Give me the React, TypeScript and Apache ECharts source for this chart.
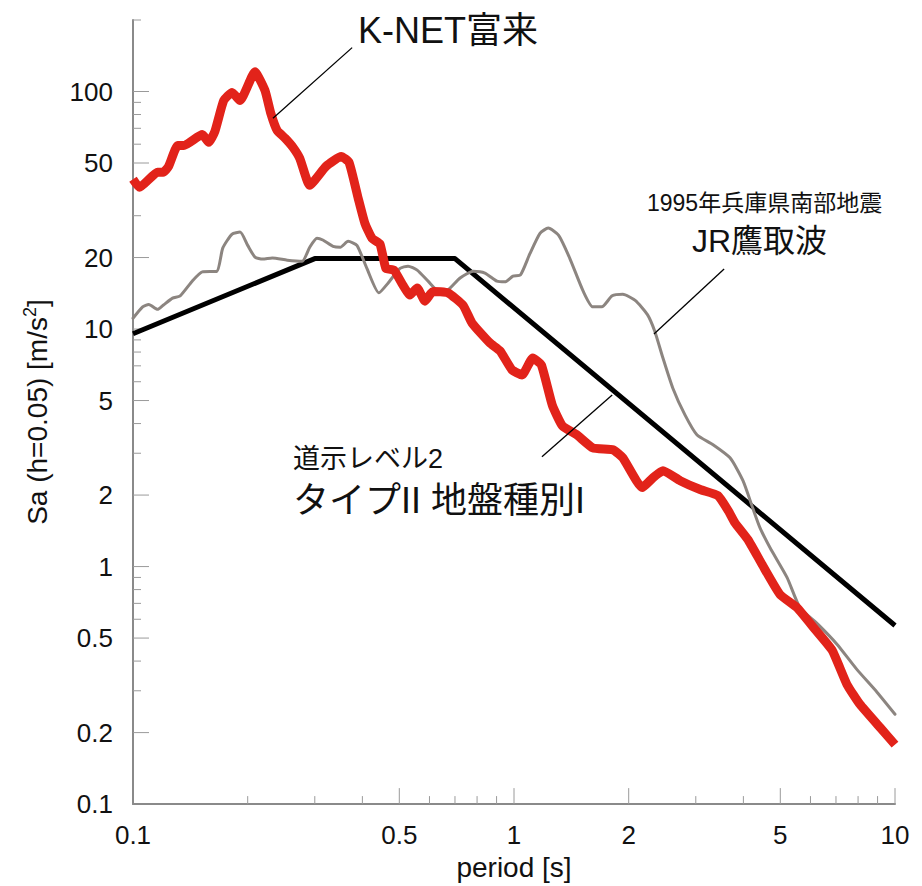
import React, { useEffect, useRef } from "react";
import * as echarts from "echarts";

// K-NET 富来 acceleration response spectrum (h = 0.05)
const knetPeriod = [
  0.1, 0.104, 0.116, 0.12, 0.124, 0.131, 0.136, 0.152, 0.158, 0.164,
  0.173, 0.182, 0.191, 0.209, 0.222, 0.23, 0.239, 0.251, 0.263, 0.274,
  0.291, 0.321, 0.352, 0.369, 0.39, 0.406, 0.424, 0.445, 0.461, 0.484,
  0.511, 0.533, 0.557, 0.584, 0.613, 0.671, 0.735, 0.776, 0.865, 0.919,
  0.988, 1.05, 1.12, 1.18, 1.26, 1.34, 1.46, 1.61, 1.82, 1.93,
  2.17, 2.32, 2.46, 2.73, 3.08, 3.43, 3.65, 3.8, 4.11, 4.48,
  4.99, 5.53, 6.17, 6.84, 7.48, 8.09, 9.14, 10,
];
const knetSa = [
  42.7, 39.5, 45.7, 45.7, 48.4, 59.3, 59.3, 65.9, 61.1, 67.9,
  91.6, 99.1, 91.6, 121, 101, 80.9, 68.5, 63.5, 58.2, 52.3,
  40.3, 48.4, 53.3, 50.3, 35.5, 27.9, 24.1, 22.8, 18.0, 17.7,
  15.3, 13.9, 14.9, 13.1, 14.4, 14.2, 12.6, 10.6, 8.73, 8.09,
  6.73, 6.41, 7.55, 7.06, 4.79, 3.91, 3.59, 3.16, 3.1, 2.87,
  2.15, 2.37, 2.53, 2.3, 2.11, 1.99, 1.72, 1.53, 1.3, 1.02,
  0.763, 0.672, 0.544, 0.444, 0.319, 0.263, 0.21, 0.178,
];

// 1995 兵庫県南部地震 JR鷹取波
const jrPeriod = [
  0.1, 0.106, 0.11, 0.116, 0.12, 0.127, 0.133, 0.143, 0.152, 0.166,
  0.172, 0.182, 0.191, 0.2, 0.209, 0.219, 0.232, 0.254, 0.278, 0.291,
  0.304, 0.315, 0.335, 0.35, 0.367, 0.387, 0.411, 0.442, 0.467, 0.502,
  0.527, 0.557, 0.595, 0.639, 0.671, 0.722, 0.781, 0.839, 0.902, 0.947,
  0.994, 1.04, 1.1, 1.17, 1.23, 1.31, 1.4, 1.52, 1.61, 1.7,
  1.81, 1.93, 2.08, 2.24, 2.34, 2.46, 2.61, 2.81, 3.02, 3.33,
  3.69, 3.99, 4.24, 4.42, 4.7, 5.21, 5.63, 6.28, 7.05, 7.94,
  8.97, 10,
];
const jrSa = [
  11.1, 12.4, 12.7, 12.1, 12.6, 13.5, 13.8, 15.9, 17.4, 17.5,
  21.9, 25.1, 25.6, 22.5, 20.1, 19.7, 19.9, 19.5, 19.3, 22.1,
  24.1, 23.7, 22.3, 22.1, 23.4, 22.5, 18.0, 14.2, 15.6, 18.0,
  18.4, 17.7, 15.9, 14.3, 14.6, 16.4, 17.5, 17.2, 15.9, 15.8,
  16.7, 16.9, 20.7, 25.3, 26.6, 24.8, 19.9, 14.4, 12.4, 12.4,
  13.8, 14.0, 13.2, 11.5, 9.81, 7.55, 5.65, 4.35, 3.59, 3.26,
  2.87, 2.3, 1.75, 1.46, 1.2, 0.899, 0.672, 0.571, 0.47, 0.369,
  0.296, 0.239,
];

// 道示レベル2 タイプII 地盤種別I design spectrum
const codePeriod = [0.1, 0.3, 0.7, 10];
const codeSa = [9.55, 19.8, 19.8, 0.565];

// Leader lines from each caption to its curve, as [period, Sa] pairs
const knetLeader = [[0.376, 153], [0.233, 77.2]];
const jrLeader = [[3.56, 17.9], [2.33, 9.53]];
const codeLeader = [[1.184, 2.9], [1.81, 5.28]];

// Axis ticks and labels
const xLabelValues = [0.1, 0.5, 1, 2, 5, 10];
const xMajorTicks = [0.5, 1, 2, 5, 10];
const xMinorTicks = [0.2, 0.3, 0.4, 0.6, 0.7, 0.8, 0.9, 3, 4, 6, 7, 8, 9];
const yLabelValues = [0.1, 0.2, 0.5, 1, 2, 5, 10, 20, 50, 100];
const yMajorTicks = [0.2, 0.5, 1, 2, 5, 10, 20, 50, 100];
const yMinorTicks = [
  0.3, 0.4, 0.6, 0.7, 0.8, 0.9, 3, 4, 6, 7, 8, 9, 30, 40, 60, 70, 80, 90, 200,
];

const X_MIN = 0.1;
const X_MAX = 10;
const Y_MIN = 0.1;
const Y_MAX = 200;
const MAJOR_LEN = 16;
const MINOR_LEN = 8;

const LATIN = '"Liberation Sans", Arial, Helvetica, sans-serif';
const MIXED = '"Liberation Sans", "Noto Sans CJK JP", sans-serif';

const zip = (xs: number[], ys: number[]) =>
  xs.slice(0, Math.min(xs.length, ys.length)).map((x, i) => [x, ys[i]]);

const leader = (pts: number[][]) => [{ coord: pts[0] }, { coord: pts[1] }];

// tick rows: [x, y, length]
const xTickRows = [
  ...xMajorTicks.map((v) => [v, Y_MIN, MAJOR_LEN]),
  ...xMinorTicks.map((v) => [v, Y_MIN, MINOR_LEN]),
];
const yTickRows = [
  ...yMajorTicks.map((v) => [X_MIN, v, MAJOR_LEN]),
  ...yMinorTicks.map((v) => [X_MIN, v, MINOR_LEN]),
];

const TICK_COLOR = "#9a9a9a";

export default function App() {
  const ref = useRef<HTMLDivElement>(null);

  useEffect(() => {
    if (!ref.current) return;
    const chart = echarts.init(ref.current, null, { renderer: "svg" });

    const axisLineStyle = { color: "#8a8a8a", width: 2 };
    const labelStyle = { fontSize: 26, color: "#111", fontFamily: LATIN };
    const fmt = (v: number) => String(v);

    chart.setOption({
      animation: false,
      backgroundColor: "#ffffff",
      grid: { left: 133, right: 27, top: 20, bottom: 79, containLabel: false },
      xAxis: {
        type: "log",
        logBase: 10,
        min: X_MIN,
        max: X_MAX,
        position: "bottom",
        splitLine: { show: false },
        minorTick: { show: false },
        axisLine: { show: true, onZero: false, lineStyle: axisLineStyle },
        axisTick: { show: false },
        axisLabel: {
          ...labelStyle,
          customValues: xLabelValues,
          formatter: fmt,
          margin: 18,
        },
        name: "period [s]",
        nameLocation: "middle",
        nameGap: 47,
        nameTextStyle: { fontSize: 28, color: "#111", fontFamily: LATIN },
      },
      yAxis: {
        type: "log",
        logBase: 10,
        min: Y_MIN,
        max: Y_MAX,
        position: "left",
        splitLine: { show: false },
        minorTick: { show: false },
        axisLine: { show: true, onZero: false, lineStyle: axisLineStyle },
        axisTick: { show: false },
        axisLabel: {
          ...labelStyle,
          customValues: yLabelValues,
          formatter: fmt,
          margin: 20,
        },
        name: "{a|Sa (h=0.05) [m/s}{b|2}{a|]}",
        nameLocation: "middle",
        nameGap: 80,
        nameRotate: 90,
        nameTextStyle: {
          color: "#111",
          fontFamily: LATIN,
          rich: {
            a: { fontSize: 28, color: "#111", fontFamily: LATIN, lineHeight: 32 },
            b: {
              fontSize: 18,
              color: "#111",
              fontFamily: LATIN,
              verticalAlign: "top",
              lineHeight: 32,
              padding: [0, 0, 8, 0],
            },
          },
        },
      },
      series: [
        {
          // inward tick marks on the period axis
          type: "custom",
          silent: true,
          z: 1,
          clip: false,
          data: xTickRows,
          encode: { x: 0, y: 1 },
          renderItem: (_params: any, api: any) => {
            const p = api.coord([api.value(0), api.value(1)]);
            const len = api.value(2);
            return {
              type: "line",
              shape: { x1: p[0], y1: p[1], x2: p[0], y2: p[1] - len },
              style: { stroke: TICK_COLOR, lineWidth: 1 },
            };
          },
        },
        {
          // inward tick marks on the Sa axis
          type: "custom",
          silent: true,
          z: 1,
          clip: false,
          data: yTickRows,
          encode: { x: 0, y: 1 },
          renderItem: (_params: any, api: any) => {
            const p = api.coord([api.value(0), api.value(1)]);
            const len = api.value(2);
            return {
              type: "line",
              shape: { x1: p[0], y1: p[1], x2: p[0] + len, y2: p[1] },
              style: { stroke: TICK_COLOR, lineWidth: 1 },
            };
          },
        },
        {
          name: "道示レベル2 タイプII 地盤種別I",
          type: "line",
          data: zip(codePeriod, codeSa),
          showSymbol: false,
          symbol: "none",
          silent: true,
          lineStyle: { color: "#000000", width: 5, join: "round", cap: "butt" },
          z: 2,
          markLine: {
            silent: true,
            symbol: ["none", "none"],
            label: { show: false },
            lineStyle: { color: "#000000", width: 1.3, type: "solid" },
            data: [leader(knetLeader), leader(jrLeader), leader(codeLeader)],
          },
        },
        {
          name: "JR鷹取波",
          type: "line",
          data: zip(jrPeriod, jrSa),
          showSymbol: false,
          symbol: "none",
          silent: true,
          smooth: 0.2,
          lineStyle: { color: "#8c8580", width: 3, join: "round", cap: "round" },
          z: 3,
        },
        {
          name: "K-NET富来",
          type: "line",
          data: zip(knetPeriod, knetSa),
          showSymbol: false,
          symbol: "none",
          silent: true,
          smooth: 0.15,
          lineStyle: { color: "#e2231a", width: 9, join: "round", cap: "butt" },
          z: 4,
        },
      ],
      graphic: [
        {
          type: "text",
          x: 358,
          y: 30,
          style: {
            text: "K-NET富来",
            fontSize: 36,
            fontFamily: MIXED,
            fill: "#111",
            align: "left",
            verticalAlign: "middle",
          },
        },
        {
          type: "text",
          x: 647,
          y: 203,
          style: {
            text: "1995年兵庫県南部地震",
            fontSize: 23,
            fontFamily: MIXED,
            fill: "#111",
            align: "left",
            verticalAlign: "middle",
          },
        },
        {
          type: "text",
          x: 692,
          y: 241,
          style: {
            text: "JR鷹取波",
            fontSize: 32,
            fontFamily: MIXED,
            fill: "#111",
            align: "left",
            verticalAlign: "middle",
          },
        },
        {
          type: "text",
          x: 293,
          y: 459,
          style: {
            text: "道示レベル2",
            fontSize: 27,
            fontFamily: MIXED,
            fill: "#111",
            align: "left",
            verticalAlign: "middle",
          },
        },
        {
          type: "text",
          x: 293,
          y: 500,
          style: {
            text: "タイプII 地盤種別I",
            fontSize: 36,
            fontFamily: MIXED,
            fill: "#111",
            align: "left",
            verticalAlign: "middle",
          },
        },
      ],
    });

    return () => chart.dispose();
  }, []);

  return (
    <div
      ref={ref}
      style={{ position: "absolute", left: 0, top: 0, width: 922, height: 886 }}
    />
  );
}
